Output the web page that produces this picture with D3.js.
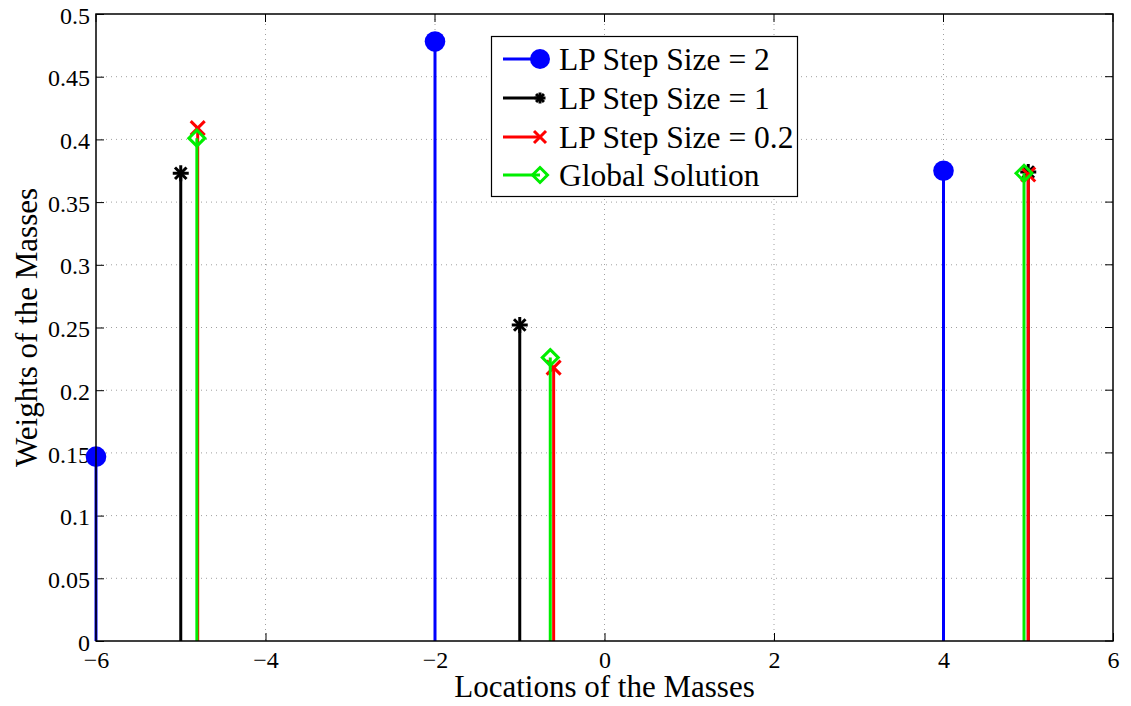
<!DOCTYPE html>
<html>
<head>
<meta charset="utf-8">
<script src="https://cdn.jsdelivr.net/npm/d3@7"></script>
<style>
  body { margin: 0; background: #fff; }
  svg { display: block; font-family: "Liberation Serif", "Times New Roman", serif; }
</style>
</head>
<body>
<svg id="chart" width="1131" height="706"></svg>
<script>
// Stem data for each solution method
const step2X = [-6, -2, 4];
const step2Y = [0.147, 0.478, 0.375];
const step1X = [-5, -1, 5];
const step1Y = [0.373, 0.252, 0.374];
const step02X = [-4.8, -0.6, 5.0];
const step02Y = [0.409, 0.218, 0.372];
const globalX = [-4.81, -0.64, 4.95];
const globalY = [0.401, 0.226, 0.373];

const seriesNames = ["LP Step Size = 2", "LP Step Size = 1", "LP Step Size = 0.2", "Global Solution"];
const xTicks = [-6, -4, -2, 0, 2, 4, 6];
const yTicks = [0, 0.05, 0.1, 0.15, 0.2, 0.25, 0.3, 0.35, 0.4, 0.45, 0.5];

const series = [
  { name: seriesNames[0], xs: step2X, ys: step2Y, color: "#0000ff", marker: "circle" },
  { name: seriesNames[1], xs: step1X, ys: step1Y, color: "#000000", marker: "star" },
  { name: seriesNames[2], xs: step02X, ys: step02Y, color: "#ff0000", marker: "cross" },
  { name: seriesNames[3], xs: globalX, ys: globalY, color: "#00ee00", marker: "diamond" }
];

const svg = d3.select("#chart");
const L = 96, R = 1113, T = 14, B = 641;
const x = d3.scaleLinear().domain([-6, 6]).range([L, R]);
const y = d3.scaleLinear().domain([0, 0.5]).range([B, T]);

// Dotted grid
const grid = svg.append("g").attr("stroke", "#a0a0a0").attr("stroke-width", 1)
  .attr("stroke-dasharray", "1,4");
xTicks.slice(1, -1).forEach(t => {
  grid.append("line").attr("x1", x(t)).attr("x2", x(t)).attr("y1", T).attr("y2", B);
});
yTicks.slice(1, -1).forEach(t => {
  grid.append("line").attr("x1", L).attr("x2", R).attr("y1", y(t)).attr("y2", y(t));
});

// Axes with inward ticks
const fmtY = d => d === 0 ? "0" : String(+d.toFixed(2));
const xAxis = d3.axisBottom(x).tickValues(xTicks).tickSizeInner(-8).tickSizeOuter(0)
  .tickFormat(d => d < 0 ? "\u2212" + Math.abs(d) : String(d));
const yAxis = d3.axisLeft(y).tickValues(yTicks).tickSizeInner(-8).tickSizeOuter(0).tickFormat(fmtY);

const gx = svg.append("g").attr("transform", `translate(0,${B})`).call(xAxis);
const gy = svg.append("g").attr("transform", `translate(${L},0)`).call(yAxis);
[gx, gy].forEach(g => {
  g.attr("font-family", null).attr("font-size", null);
  g.select(".domain").remove();
  g.selectAll(".tick line").attr("stroke", "#000").attr("stroke-width", 1);
  g.selectAll(".tick text").attr("fill", "#000").attr("font-size", 24)
    .attr("font-family", "Liberation Serif, serif");
});
gx.selectAll(".tick text").attr("y", 27).attr("dy", 0);
gy.selectAll(".tick text").attr("x", -6).attr("dy", "0.38em");

// Mirrored ticks on top and right
const mirror = svg.append("g").attr("stroke", "#000").attr("stroke-width", 1);
xTicks.forEach(t => mirror.append("line").attr("x1", x(t)).attr("x2", x(t)).attr("y1", T).attr("y2", T + 8));
yTicks.forEach(t => mirror.append("line").attr("x1", R).attr("x2", R - 8).attr("y1", y(t)).attr("y2", y(t)));

// Marker shapes
function drawMarker(g, m, cx, cy, color, size) {
  if (m === "circle") {
    g.append("circle").attr("cx", cx).attr("cy", cy).attr("r", size).attr("fill", color);
  } else if (m === "star") {
    const s = size;
    const p = g.append("g").attr("stroke", color).attr("stroke-width", 3);
    p.append("line").attr("x1", cx - s).attr("x2", cx + s).attr("y1", cy).attr("y2", cy);
    p.append("line").attr("x1", cx).attr("x2", cx).attr("y1", cy - s).attr("y2", cy + s);
    const d = s * 0.72;
    p.append("line").attr("x1", cx - d).attr("x2", cx + d).attr("y1", cy - d).attr("y2", cy + d);
    p.append("line").attr("x1", cx - d).attr("x2", cx + d).attr("y1", cy + d).attr("y2", cy - d);
  } else if (m === "cross") {
    const s = size;
    const p = g.append("g").attr("stroke", color).attr("stroke-width", 3);
    p.append("line").attr("x1", cx - s).attr("x2", cx + s).attr("y1", cy - s).attr("y2", cy + s);
    p.append("line").attr("x1", cx - s).attr("x2", cx + s).attr("y1", cy + s).attr("y2", cy - s);
  } else if (m === "diamond") {
    const s = size;
    g.append("path").attr("d", `M${cx},${cy - s}L${cx + s},${cy}L${cx},${cy + s}L${cx - s},${cy}Z`)
      .attr("fill", "none").attr("stroke", color).attr("stroke-width", 3);
  }
}
const dataSize = { circle: 10.3, star: 8, cross: 7, diamond: 8 };
const legendSize = { circle: 10, star: 5.5, cross: 6, diamond: 7.5 };

// Stems
const plot = svg.append("g");
series.forEach(s => {
  const g = plot.append("g");
  s.xs.forEach((xv, i) => {
    g.append("line").attr("x1", x(xv)).attr("x2", x(xv)).attr("y1", y(0)).attr("y2", y(s.ys[i]))
      .attr("stroke", s.color).attr("stroke-width", 3);
    drawMarker(g, s.marker, x(xv), y(s.ys[i]), s.color, dataSize[s.marker]);
  });
});

// Axes box
svg.append("rect").attr("x", L).attr("y", T).attr("width", R - L).attr("height", B - T)
  .attr("fill", "none").attr("stroke", "#000").attr("stroke-width", 1.5);

// Axis titles
svg.append("text").attr("x", (L + R) / 2).attr("y", 697).attr("text-anchor", "middle")
  .attr("font-size", 31).attr("fill", "#000").text("Locations of the Masses");
svg.append("text").attr("transform", `translate(37,${(T + B) / 2}) rotate(-90)`)
  .attr("text-anchor", "middle").attr("font-size", 31).attr("fill", "#000").text("Weights of the Masses");

// Legend
const lg = svg.append("g");
lg.append("rect").attr("x", 491.5).attr("y", 36.5).attr("width", 306).attr("height", 160)
  .attr("fill", "#fff").attr("stroke", "#000").attr("stroke-width", 1.2);
const rowY = [59, 98, 137, 175];
series.forEach((s, i) => {
  const ry = rowY[i];
  lg.append("line").attr("x1", 503).attr("x2", 540).attr("y1", ry).attr("y2", ry)
    .attr("stroke", s.color).attr("stroke-width", 3);
  drawMarker(lg, s.marker, 540, ry, s.color, legendSize[s.marker]);
  lg.append("text").attr("x", 559).attr("y", ry).attr("dy", "0.34em")
    .attr("font-size", 31.5).attr("fill", "#000").text(s.name);
});
</script>
</body>
</html>
